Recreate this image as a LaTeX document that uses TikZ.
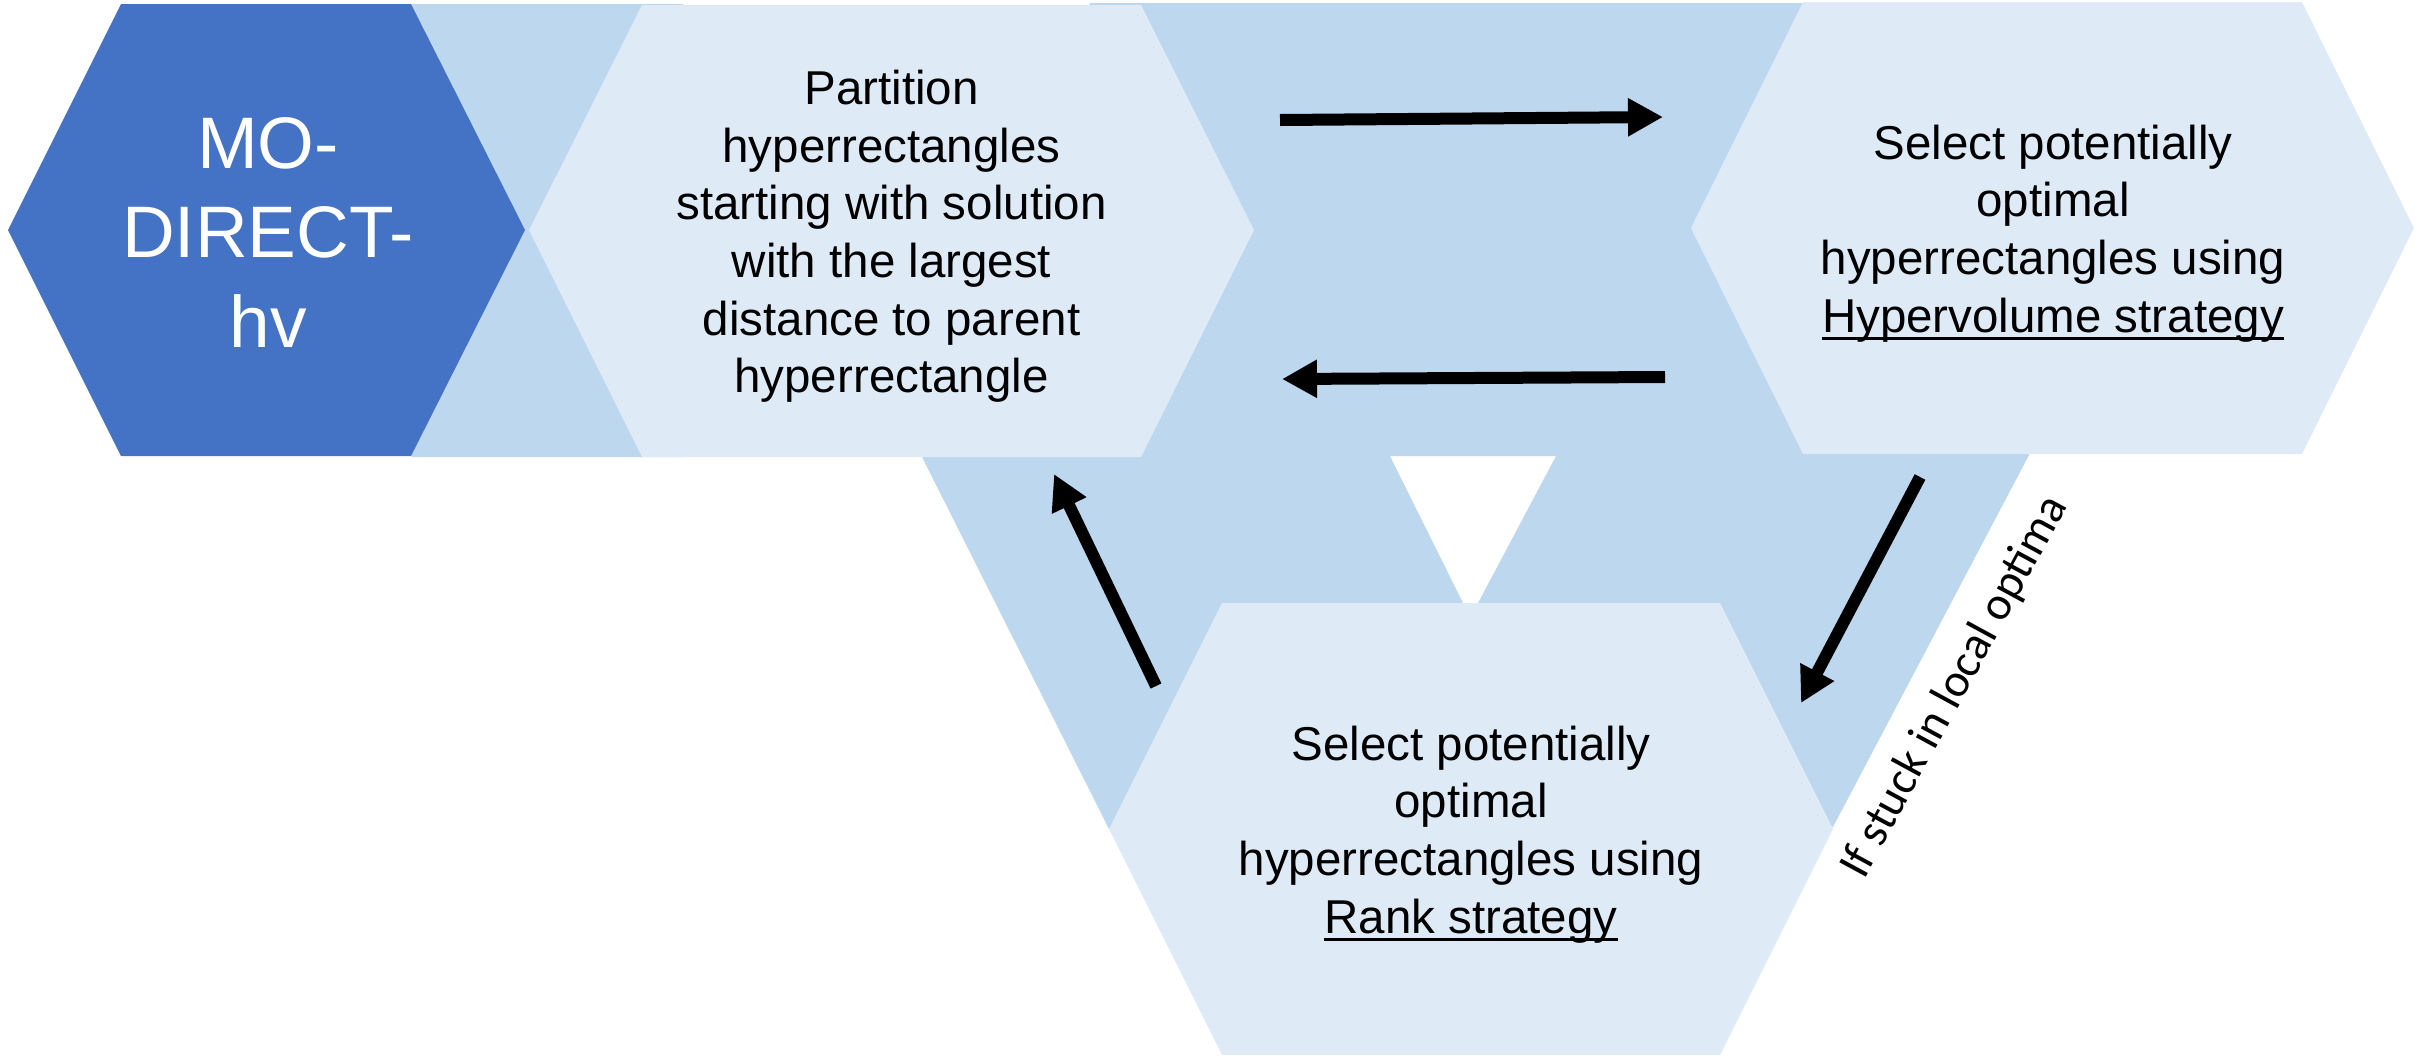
\documentclass[tikz,border=0pt]{standalone}
\usepackage{fontspec}
\setmainfont{Liberation Sans}
\newfontfamily\notefont{Carlito}
\usetikzlibrary{arrows.meta}
\definecolor{hexdark}{HTML}{4472C4}
\definecolor{hexmid}{HTML}{BDD7EE}
\definecolor{hexlight}{HTML}{DEEBF7}
% underline that runs through the descenders, as in slide software
\newcommand\stratline[1]{\setbox0\hbox{#1}\makebox[0pt][l]{\rule[-7.5pt]{\wd0}{3pt}}\box0}
\begin{document}
\begin{tikzpicture}[x=1pt,y=-1pt,
  darkhex/.style={fill=hexdark},
  lighthex/.style={fill=hexlight},
  band/.style={fill=hexmid},
  steptext/.style={inner sep=0pt, align=center, text=black,
    font=\fontsize{47.5}{57.6}\selectfont},
  titletext/.style={inner sep=0pt, align=center, text=white,
    font=\fontsize{73}{89.5}\selectfont},
  notetext/.style={inner sep=0pt, text=black,
    font=\notefont\fontsize{47}{56}\selectfont},
  flow/.style={line width=12pt, -{Triangle[width=36pt,length=35pt]}}]
\useasboundingbox (0,0) rectangle (2433,1058);

% connecting bands behind the hexagons
\fill[band] (299,230) -- (412,4) -- (683,4) -- (796,230) -- (683,457) -- (412,457) -- cycle;
\fill[band] (1090,3) -- (2029,3) -- (2029,455) -- (1833,827) -- (1478,603)
  -- (1556,456) -- (1390,456) -- (1463,603) -- (1109,829) -- (922,457)
  -- (1000,230) -- cycle;

% hexagons
\fill[darkhex] (8,230) -- (121,4) -- (411,4) -- (525,230) -- (411,456) -- (121,456) -- cycle;
\fill[lighthex] (529,230) -- (642,5) -- (1141,5) -- (1254,230) -- (1141,457) -- (642,457) -- cycle;
\fill[lighthex] (1691,228) -- (1803,2) -- (2302,2) -- (2414,228) -- (2302,454) -- (1803,454) -- cycle;
\fill[lighthex] (1109,829) -- (1222,603) -- (1720,603) -- (1833,829) -- (1720,1055) -- (1222,1055) -- cycle;

% labels
\node[titletext] (mo) at (268,232.5) {MO-\\DIRECT-\\hv};
\node[steptext] (part) at (891.5,236.5) {Partition\\hyperrectangles\\starting with solution\\with the largest\\distance to parent\\hyperrectangle};
\node[steptext] (hvsel) at (2053,233.5) {Select potentially\\optimal\\hyperrectangles using\\\stratline{Hypervolume strategy}};
\node[steptext] (ranksel) at (1471,834.5) {Select potentially\\optimal\\hyperrectangles using\\\stratline{Rank strategy}};
\node[notetext, rotate=61.5, anchor=base] (stuck) at (1966,693) {If stuck in local optima};

% arrow ends
\coordinate (toHvA) at (1280,120);   \coordinate (toHvB) at (1663,117);
\coordinate (toPartA) at (1665,377); \coordinate (toPartB) at (1282,379);
\coordinate (toRankA) at (1920,477); \coordinate (toRankB) at (1801,703);
\coordinate (backA) at (1156,686);   \coordinate (backB) at (1054,474);

\draw[flow] (toHvA) -- (toHvB);
\draw[flow] (toPartA) -- (toPartB);
\draw[flow] (toRankA) -- (toRankB);
\draw[flow] (backA) -- (backB);
\end{tikzpicture}
\end{document}
